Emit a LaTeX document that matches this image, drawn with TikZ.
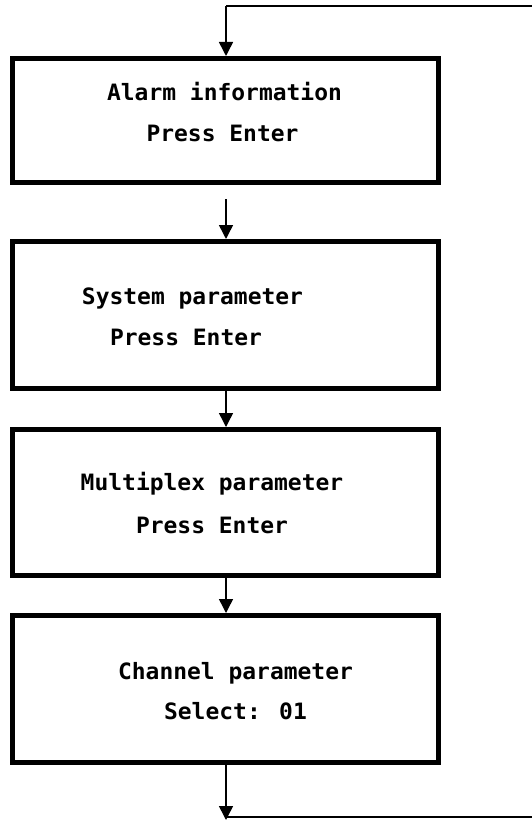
\documentclass[tikz,border=0pt]{standalone}
\usepackage{fontspec}
\newfontfamily\lcd[FakeStretch=1.02]{DejaVu Sans Mono Bold}
\usetikzlibrary{arrows.meta}
\begin{document}
\begin{tikzpicture}[x=1pt,y=-1pt,
  menubox/.style={draw=black,line width=5pt,minimum width=426pt,inner sep=0pt,fill=white},
  lbl/.style={anchor=base,inner sep=0pt,font=\lcd\fontsize{22.5}{26}\selectfont},
  flow/.style={line width=1.5pt,-{Triangle[length=14pt,width=14pt]}},
  loopline/.style={line width=1.3pt}]
\useasboundingbox (0,0) rectangle (531,821);
\node[menubox,minimum height=124pt] (b1) at (225.5,120.5) {};
\node[menubox,minimum height=147pt] (b2) at (225.5,315) {};
\node[menubox,minimum height=146pt] (b3) at (225.5,502.5) {};
\node[menubox,minimum height=147pt] (b4) at (225.5,689) {};
\node[lbl] (t1a) at (224.5,101) {Alarm information};
\node[lbl] (t1b) at (222.5,142) {Press Enter};
\node[lbl] (t2a) at (192.5,304) {System parameter};
\node[lbl] (t2b) at (186,345) {Press Enter};
\node[lbl] (t3a) at (212,490) {Multiplex parameter};
\node[lbl] (t3b) at (212,533) {Press Enter};
\node[lbl] (t4a) at (235.5,679) {Channel parameter};
\node[lbl] (t4b) at (235.5,719) {Select: 01};
\coordinate (tr) at (533,6);
\coordinate (tl) at (226,6);
\coordinate (a1) at (226,199);
\coordinate (bt) at (226,820);
\coordinate (bl) at (226,817);
\coordinate (br) at (533,817);
\draw[loopline] (tr) -- (tl);
\draw[flow] (tl) -- (b1.north -| tl);
\draw[flow] (a1) -- (b2.north -| tl);
\draw[flow] (b2.south -| tl) -- (b3.north -| tl);
\draw[flow] (b3.south -| tl) -- (b4.north -| tl);
\draw[flow] (b4.south -| tl) -- (bt);
\draw[loopline] (bl) -- (br);
\end{tikzpicture}
\end{document}
